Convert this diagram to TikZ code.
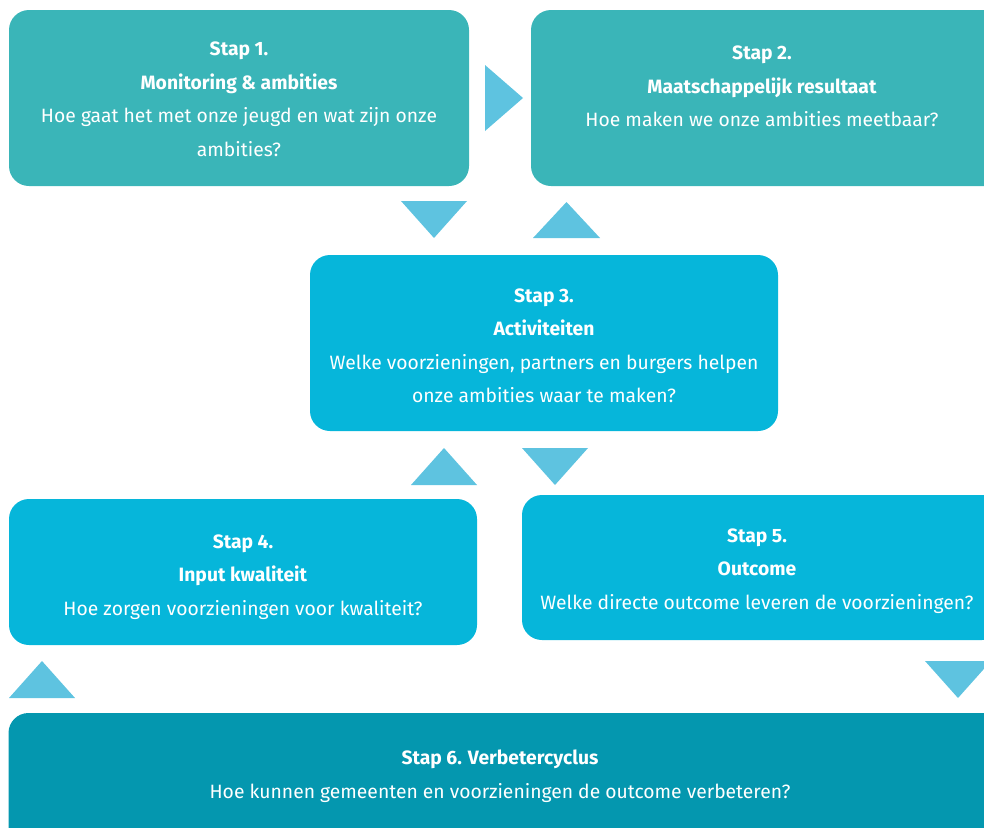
\documentclass[tikz,border=0pt]{standalone}
\usepackage{fontspec}
\setmainfont{Fira Sans}
\definecolor{tealbox}{HTML}{3AB5B8}
\definecolor{cyanbox}{HTML}{06B6DA}
\definecolor{darkbox}{HTML}{0497AF}
\definecolor{tri}{HTML}{5EC3E0}
\begin{document}
\begin{tikzpicture}[x=1pt,y=-1pt,
  box/.style={rounded corners=20pt,inner sep=0pt},
  txt/.style={text=white,align=center,inner sep=0pt,font=\fontsize{19.3}{33.5}\selectfont},
  tri/.style={fill=tri,draw=none}]
\useasboundingbox (0,0) rectangle (984,827);
\clip (0,0) rectangle (984,827);
% boxes
\node[box,fill=tealbox,minimum width=460pt,minimum height=176pt] (s1) at (239,98) {};
\node[box,fill=tealbox,minimum width=480pt,minimum height=176pt] (s2) at (771,98) {};
\node[box,fill=cyanbox,minimum width=468pt,minimum height=176pt] (s3) at (544,343) {};
\node[box,fill=cyanbox,minimum width=468pt,minimum height=146pt] (s4) at (243,572) {};
\node[box,fill=cyanbox,minimum width=480pt,minimum height=145pt] (s5) at (762,567.5) {};
\node[box,fill=darkbox,minimum width=995pt,minimum height=140pt] (s6) at (506,783) {};
% texts
\node[txt] (t1) at (239,99.5) {\textbf{Stap 1.}\\\textbf{Monitoring \& ambities}\\Hoe gaat het met onze jeugd en wat zijn onze\\ambities?};
\node[txt] (t2) at (762,86.5) {\textbf{Stap 2.}\\\textbf{Maatschappelijk resultaat}\\Hoe maken we onze ambities meetbaar?};
\node[txt] (t3) at (544,346) {\textbf{Stap 3.}\\\textbf{Activiteiten}\\Welke voorzieningen, partners en burgers helpen\\onze ambities waar te maken?};
\node[txt] (t4) at (243,577) {\textbf{Stap 4.}\\\textbf{Input kwaliteit}\\Hoe zorgen voorzieningen voor kwaliteit?};
\node[txt] (t5) at (757,571) {\textbf{Stap 5.}\\\textbf{Outcome}\\Welke directe outcome leveren de voorzieningen?};
\node[txt] (t6) at (500,776) {\textbf{Stap 6. Verbetercyclus}\\Hoe kunnen gemeenten en voorzieningen de outcome verbeteren?};
% triangles
\fill[tri] (485,65) -- (523,98) -- (485,131) -- cycle;
\fill[tri] (401,201) -- (467,201) -- (434,238) -- cycle;
\fill[tri] (533,238) -- (600,238) -- (566.5,202) -- cycle;
\fill[tri] (411,485) -- (477,485) -- (444,448) -- cycle;
\fill[tri] (522,448) -- (588,448) -- (555,485) -- cycle;
\fill[tri] (9,698) -- (75,698) -- (42,661) -- cycle;
\fill[tri] (925,661) -- (991,661) -- (958,698) -- cycle;
\end{tikzpicture}
\end{document}
